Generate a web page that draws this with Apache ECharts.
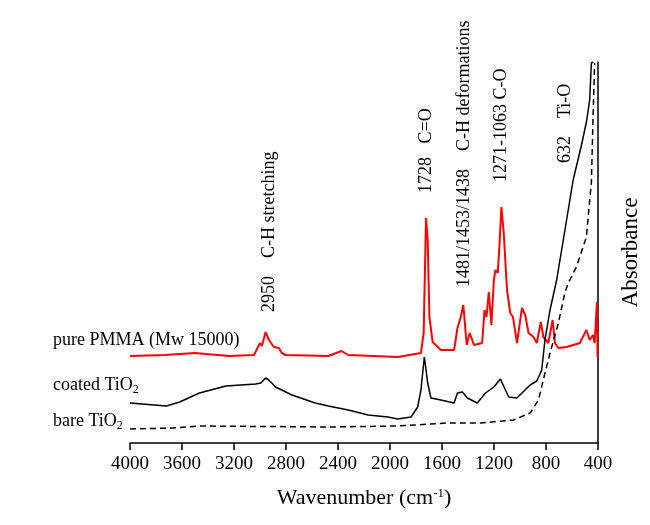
<!DOCTYPE html>
<html style="height: 100%">
  <head>
     <meta charset="utf-8">
  </head>
  <body style="height: 100%; margin: 0; background: #fff">
     <div id="container" style="width: 650px; height: 525px"></div>
     <script type="text/javascript" src="https://cdn.jsdelivr.net/npm/echarts@6/dist/echarts.min.js"></script>
     <script type="text/javascript">
// FTIR spectra, [wavenumber, absorbance (arb. units)]
var pmma = [
  [4000, 87], [3733, 88], [3499, 90], [3237, 87], [3046, 88], [3000, 100], [2985, 97],
  [2957, 111], [2932, 103], [2893, 96], [2855, 95], [2832, 90], [2802, 88], [2474, 87],
  [2374, 92], [2321, 88], [1940, 86], [1762, 90], [1741, 110], [1723, 225], [1710, 203],
  [1697, 126], [1672, 101], [1609, 93], [1507, 93], [1481, 115], [1458, 125], [1436, 138],
  [1410, 98], [1387, 110], [1354, 98], [1291, 100], [1273, 133], [1258, 126], [1240, 151],
  [1220, 118], [1201, 163], [1189, 173], [1171, 170], [1157, 200], [1143, 236], [1125, 210],
  [1100, 153], [1075, 130], [1054, 126], [1023, 100], [985, 135], [960, 128], [934, 110],
  [896, 106], [871, 100], [840, 121], [820, 106], [782, 100], [749, 123], [731, 100],
  [705, 95], [642, 96], [591, 98], [540, 100], [489, 113], [464, 103], [438, 108],
  [426, 100], [408, 141], [403, 86]
];
var coated = [
  [4000, 40], [3720, 37], [3618, 41], [3466, 50], [3262, 57], [3033, 59], [2993, 60],
  [2957, 65], [2932, 63], [2880, 56], [2754, 48], [2575, 40], [2474, 37], [2321, 33],
  [2168, 28], [2016, 26], [1940, 24], [1838, 26], [1787, 36], [1762, 53], [1736, 86],
  [1710, 60], [1685, 45], [1609, 43], [1507, 40], [1481, 50], [1443, 51], [1405, 45],
  [1329, 40], [1265, 50], [1201, 56], [1151, 64], [1087, 46], [1024, 45], [922, 58],
  [871, 62], [833, 73], [808, 103], [769, 133], [718, 163], [667, 203], [591, 263],
  [527, 298], [489, 321], [464, 343], [451, 380], [436, 381]
];
var bare = [
  [4000, 14], [3672, 15], [3466, 17], [2474, 16], [1940, 17], [1558, 20], [1304, 20],
  [1049, 23], [922, 30], [858, 43], [808, 70], [769, 90], [705, 120], [655, 150],
  [629, 160], [566, 176], [502, 201], [489, 206], [464, 243], [451, 260], [438, 326],
  [426, 380]
];
// peak annotations: wavenumber, start height, text
var peakWn = [2930, 1723, 1428, 1146, 649];
var peakStart = [131, 250, 156, 261, 280];
var peakText = ['2950    C-H stretching', '1728   C=O', '1481/1453/1438    C-H deformations',
                '1271-1063 C-O', '632    Ti-O'];

var serif = 'Liberation Serif';
var dom = document.getElementById("container");
var myChart = echarts.init(dom);

var option = {
  animation: false,
  grid: { left: 130, right: 49, top: 62, bottom: 82 },
  xAxis: {
    type: 'value',
    inverse: true,
    min: 400, max: 4000, interval: 400,
    axisLine: { lineStyle: { color: '#000', width: 1.5 } },
    axisTick: { inside: false, length: 7, lineStyle: { color: '#000', width: 1.5 } },
    axisLabel: { color: '#000', fontFamily: serif, fontSize: 19, margin: 12,
                 formatter: function (v) { return String(v); } },
    splitLine: { show: false },
    name: 'Wavenumber (cm{sup|-1})',
    nameLocation: 'middle',
    nameGap: 44,
    nameMoveOverlap: false,
    nameTextStyle: {
      color: '#000', fontFamily: serif, fontSize: 22,
      rich: { sup: { fontFamily: serif, fontSize: 13, verticalAlign: 'top', padding: [0, 0, 10, 0] } }
    }
  },
  yAxis: {
    type: 'value',
    position: 'right',
    min: 0, max: 381,
    axisLine: { show: true, lineStyle: { color: '#000', width: 1.5 } },
    axisTick: { show: false },
    axisLabel: { show: false },
    splitLine: { show: false },
    name: 'Absorbance',
    nameLocation: 'middle',
    nameRotate: 90,
    nameGap: 21,
    nameTextStyle: { color: '#000', fontFamily: serif, fontSize: 23 }
  },
  series: [
    { name: 'pure PMMA', type: 'line', data: pmma, symbol: 'none', z: 3,
      lineStyle: { color: '#ff0000', width: 2 } },
    { name: 'coated TiO2', type: 'line', data: coated, symbol: 'none',
      lineStyle: { color: '#000', width: 1.5 } },
    { name: 'bare TiO2', type: 'line', data: bare, symbol: 'none',
      lineStyle: { color: '#000', width: 1.5, type: [6, 4] } }
  ]
};
myChart.setOption(option);

var subRich = { s: { fontFamily: serif, fontSize: 12, verticalAlign: 'bottom', padding: [9, 0, 0, 0] } };
var graphics = [
  { type: 'text', left: 53, top: 331, style: { text: 'pure PMMA (Mw 15000)', font: '18px ' + serif, fill: '#000' } },
  { type: 'text', left: 53, top: 376, style: { text: 'coated TiO{s|2}', font: '18px ' + serif, fill: '#000', rich: subRich } },
  { type: 'text', left: 53, top: 412, style: { text: 'bare TiO{s|2}', font: '18px ' + serif, fill: '#000', rich: subRich } }
];
for (var i = 0; i < peakWn.length; i++) {
  var p = myChart.convertToPixel({ gridIndex: 0 }, [peakWn[i], peakStart[i]]);
  graphics.push({
    type: 'text', x: p[0], y: p[1], rotation: Math.PI / 2,
    style: { text: peakText[i], font: '18px ' + serif, fill: '#000', align: 'left', verticalAlign: 'middle' }
  });
}
myChart.setOption({ graphic: graphics });
     </script>
  </body>
</html>
